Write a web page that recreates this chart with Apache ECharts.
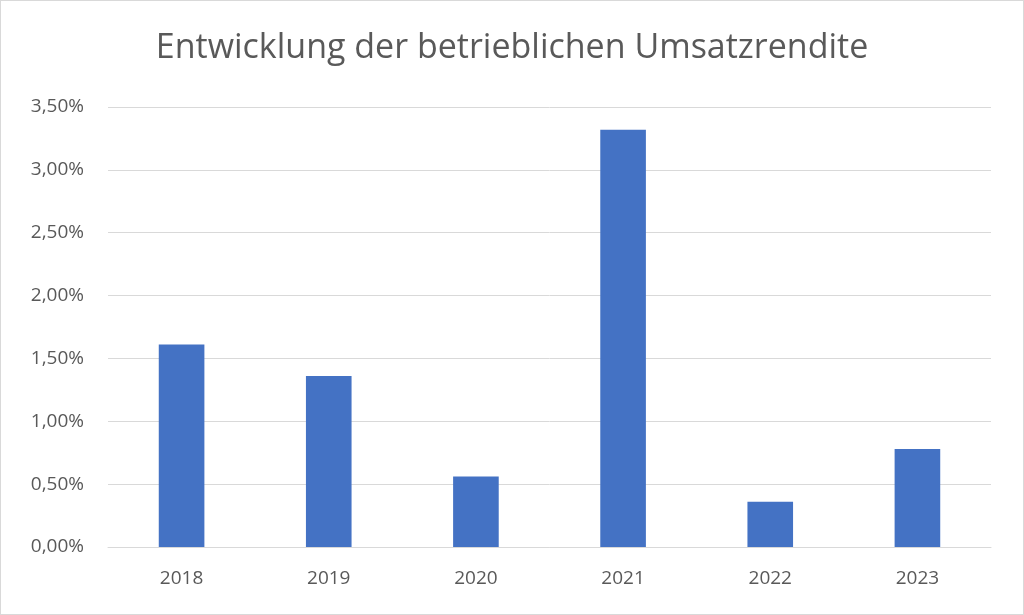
<!DOCTYPE html>
<html><head><meta charset="utf-8">
<script src="https://cdn.jsdelivr.net/npm/echarts@6/dist/echarts.min.js"></script>
<style>html,body{margin:0;padding:0;background:#fff}#c{width:1024px;height:615px;box-sizing:border-box;border:1px solid #d9d9d9}</style>
</head><body><div id="c"></div>
<script>
const categories = ['2018','2019','2020','2021','2022','2023'];
const values = [1.61, 1.36, 0.56, 3.32, 0.36, 0.78];
const chart = echarts.init(document.getElementById('c'));
const font = 'Open Sans';
chart.setOption({
  animation: false,
  title: { text: 'Entwicklung der betrieblichen Umsatzrendite', left: 'center', top: 25,
    textStyle: { fontFamily: font, fontSize: 34, fontWeight: 'normal', color: '#595959' } },
  grid: { left: 107, right: 32, top: 106, bottom: 67 },
  xAxis: { type: 'category', data: categories,
    axisLine: { lineStyle: { color: '#d9d9d9' } }, axisTick: { show: false },
    axisLabel: { fontFamily: font, fontSize: 19, color: '#595959', margin: 22 } },
  yAxis: { type: 'value', min: 0, max: 3.5, interval: 0.5,
    axisLine: { show: false }, axisTick: { show: false },
    splitLine: { lineStyle: { color: '#d9d9d9' } },
    axisLabel: { fontFamily: font, fontSize: 19, color: '#595959', margin: 24,
      formatter: v => v.toFixed(2).replace('.', ',') + '%' } },
  series: [{ type: 'bar', data: values, barWidth: '31%', itemStyle: { color: '#4472c4' } }]
});
</script></body></html>
